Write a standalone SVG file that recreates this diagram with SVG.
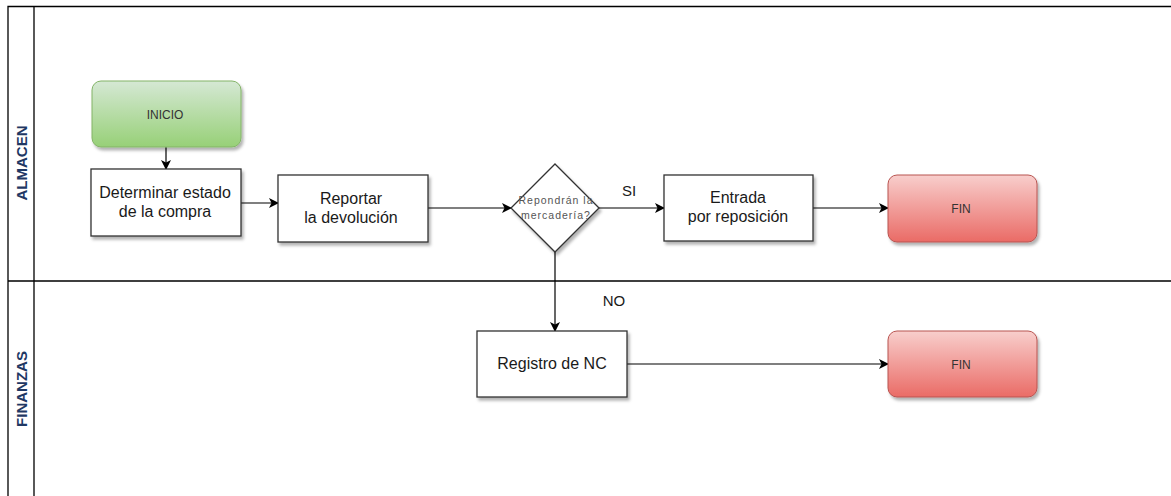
<svg xmlns="http://www.w3.org/2000/svg" width="1171" height="496" viewBox="0 0 1171 496">
<defs>
<linearGradient id="gGreen" x1="0" y1="0" x2="0" y2="1"><stop offset="0" stop-color="#d5e8d4"/><stop offset="1" stop-color="#97d077"/></linearGradient>
<linearGradient id="gRed" x1="0" y1="0" x2="0" y2="1"><stop offset="0" stop-color="#f8cecc"/><stop offset="1" stop-color="#ea6b66"/></linearGradient>
<filter id="sh" x="-10%" y="-10%" width="130%" height="140%"><feDropShadow dx="2" dy="3" stdDeviation="1.5" flood-color="#000" flood-opacity="0.3"/></filter>
<marker id="arr" viewBox="0 0 10 10" refX="9" refY="5" markerWidth="10" markerHeight="10" markerUnits="userSpaceOnUse" orient="auto"><path d="M0,0 L10,5 L0,10 L2.5,5 Z" fill="#000"/></marker>
</defs>
<style>
.lane{fill:none;stroke:#000;stroke-width:1.3}
.box{fill:#fff;stroke:#333;stroke-width:1.3;filter:url(#sh)}
.green{fill:url(#gGreen);stroke:#82b366;stroke-width:1;filter:url(#sh)}
.red{fill:url(#gRed);stroke:#b85450;stroke-width:1;filter:url(#sh)}
.t{font-family:"Liberation Sans",Arial,sans-serif;fill:#1a1a1a;text-anchor:middle}
.small{font-size:12px;fill:#333}
.mid{font-size:16px}
.lbl{font-size:15px}
.dia{font-size:10.5px;fill:#555;letter-spacing:1px}
.lanelbl{font-family:"Liberation Sans",Arial,sans-serif;font-size:15px;font-weight:bold;fill:#1f3864;text-anchor:middle}
.c{fill:none;stroke:#000;stroke-width:1.2;marker-end:url(#arr)}
</style>
<rect width="1171" height="496" fill="#fff"/>
<g id="lanes">
<path class="lane" d="M8,496 V6.5 H1171 M34,6.5 V496 M8,281 H1171"/>
<text class="lanelbl" transform="translate(27,163) rotate(-90)">ALMACEN</text>
<text class="lanelbl" transform="translate(27,389) rotate(-90)">FINANZAS</text>
</g>
<g id="connectors">
<path class="c" d="M166,147 V169"/>
<path class="c" d="M241,203 H278"/>
<path class="c" d="M428,208 H511"/>
<path class="c" d="M599,208 H664"/>
<path class="c" d="M813,208 H888"/>
<path class="c" d="M555,252 V331"/>
<path class="c" d="M627,364 H888"/>
<text class="t lbl" x="629" y="196">SI</text>
<text class="t lbl" x="614" y="306">NO</text>
</g>
<g id="inicio">
<rect class="green" x="92" y="81" width="149" height="66" rx="9"/>
<text class="t small" x="165" y="119">INICIO</text>
</g>
<g id="determinar">
<rect class="box" x="91" y="169" width="150" height="67"/>
<text class="t mid" x="165" y="198">Determinar estado</text>
<text class="t mid" x="165" y="217">de la compra</text>
</g>
<g id="reportar">
<rect class="box" x="278" y="175" width="150" height="67"/>
<text class="t mid" x="351" y="204">Reportar</text>
<text class="t mid" x="351" y="223">la devolución</text>
</g>
<g id="decision">
<path class="box" d="M555,164 L599,208 L555,252 L511,208 Z"/>
<text class="t dia" x="556" y="204">Repondrán la</text>
<text class="t dia" x="556" y="219">mercadería?</text>
</g>
<g id="entrada">
<rect class="box" x="664" y="175" width="149" height="66"/>
<text class="t mid" x="738" y="203">Entrada</text>
<text class="t mid" x="738" y="222">por reposición</text>
</g>
<g id="fin1">
<rect class="red" x="888" y="175" width="149" height="67" rx="9"/>
<text class="t small" x="961" y="213">FIN</text>
</g>
<g id="registro">
<rect class="box" x="477" y="331" width="150" height="66"/>
<text class="t mid" x="552" y="369">Registro de NC</text>
</g>
<g id="fin2">
<rect class="red" x="888" y="331" width="149" height="66" rx="9"/>
<text class="t small" x="961" y="369">FIN</text>
</g>
</svg>
